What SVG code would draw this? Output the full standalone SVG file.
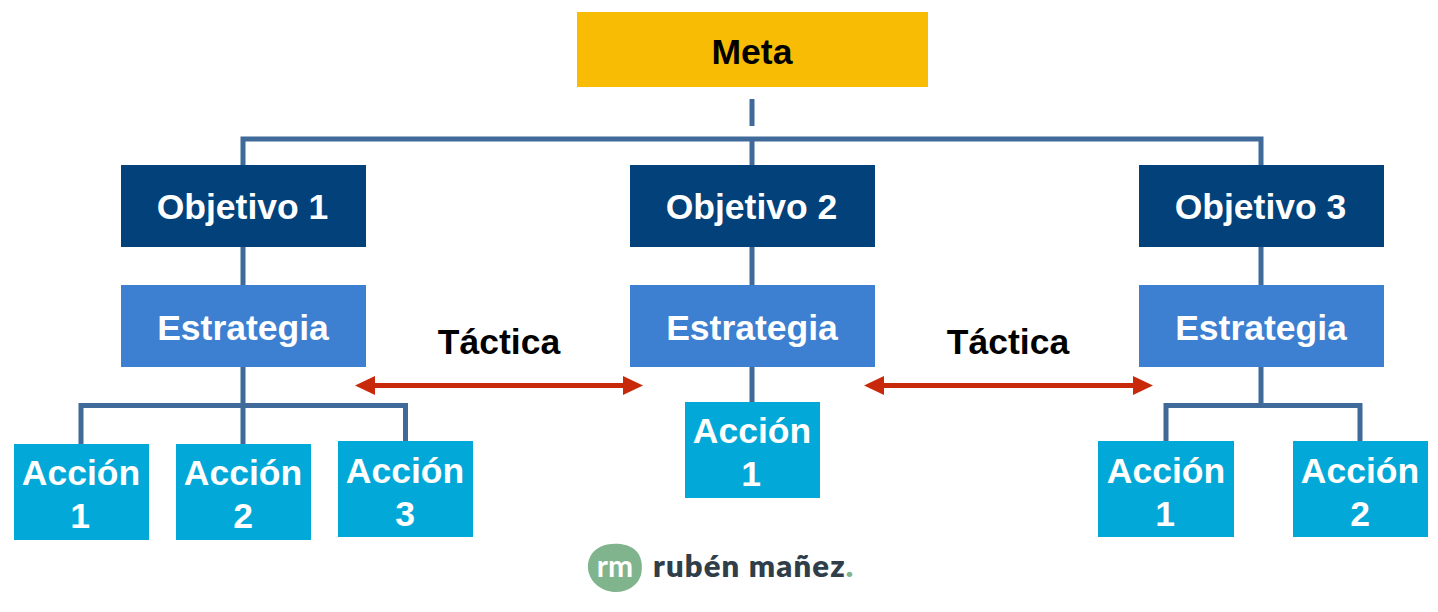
<svg xmlns="http://www.w3.org/2000/svg" width="1438" height="612" viewBox="0 0 1438 612">
<style>
text{font-family:"Liberation Sans",Arial,sans-serif;font-weight:700;text-anchor:middle}
.w{fill:#fff;font-size:35.5px}
.k{fill:#000;font-size:35.5px}
.c{fill:none;stroke:#3f6a9a;stroke-width:5}
.r{fill:none;stroke:#c8290a;stroke-width:5}
.o{fill:#024179}.e{fill:#3d7fd0}.a{fill:#02a9d8}
</style>
<defs>
<marker id="ah" markerUnits="userSpaceOnUse" markerWidth="20" markerHeight="20" refX="10" refY="10" orient="auto-start-reverse"><path d="M0 0.5L20 10L0 19.5Z" fill="#c8290a"/></marker>
</defs>
<rect width="1438" height="612" fill="#fff"/>
<g id="connectors">
<path class="c" d="M752 99V126M243 165V139H1261V165M752 139V165M243 247V285M752 247V285M1261 247V285M243 367V444M81 444V405.5H405.500V441M752 367V402M1261 367V404M1166 441V405.500H1360V441"/>
<path class="r" d="M365 385.500H633" marker-start="url(#ah)" marker-end="url(#ah)"/>
<path class="r" d="M874 385.500H1143" marker-start="url(#ah)" marker-end="url(#ah)"/>
</g>
<g id="meta"><rect x="577" y="12" width="351" height="75" fill="#f9bc05"/><text class="k" x="752" y="64">Meta</text></g>
<g id="obj1"><rect class="o" x="121" y="165" width="245" height="82"/><text class="w" x="242.500" y="219">Objetivo 1</text></g>
<g id="obj2"><rect class="o" x="630" y="165" width="245" height="82"/><text class="w" x="751.500" y="219">Objetivo 2</text></g>
<g id="obj3"><rect class="o" x="1139" y="165" width="245" height="82"/><text class="w" x="1260.500" y="219">Objetivo 3</text></g>
<g id="est1"><rect class="e" x="121" y="285" width="245" height="82"/><text class="w" x="243" y="340">Estrategia</text></g>
<g id="est2"><rect class="e" x="630" y="285" width="245" height="82"/><text class="w" x="752" y="340">Estrategia</text></g>
<g id="est3"><rect class="e" x="1139" y="285" width="245" height="82"/><text class="w" x="1261" y="340">Estrategia</text></g>
<g id="tac1"><text class="k" x="499" y="354">Táctica</text></g>
<g id="tac2"><text class="k" x="1008" y="354">Táctica</text></g>
<g id="a11"><rect class="a" x="14" y="444" width="135" height="96"/><text class="w" x="81" y="485">Acción</text><text class="w" x="80" y="528">1</text></g>
<g id="a12"><rect class="a" x="176" y="444" width="135" height="96"/><text class="w" x="243" y="485">Acción</text><text class="w" x="243" y="528">2</text></g>
<g id="a13"><rect class="a" x="338" y="441" width="135" height="96"/><text class="w" x="405" y="483">Acción</text><text class="w" x="405" y="526">3</text></g>
<g id="a21"><rect class="a" x="685" y="402" width="135" height="96"/><text class="w" x="752" y="443">Acción</text><text class="w" x="751" y="486">1</text></g>
<g id="a31"><rect class="a" x="1098" y="441" width="136" height="96"/><text class="w" x="1166" y="483">Acción</text><text class="w" x="1165" y="526">1</text></g>
<g id="a32"><rect class="a" x="1293" y="441" width="135" height="96"/><text class="w" x="1360" y="483">Acción</text><text class="w" x="1360" y="526">2</text></g>
<g id="logo"><path d="M588 569C587 559 592 551 600 547C610 542 626 543 634 549C642 555 643 566 641 575C638 585 628 592 616 592C605 592 590 585 588 569Z" fill="#7fb48d"/>
<text x="615" y="577" style="font-family:Lato,sans-serif;font-size:30px;font-weight:700" fill="#fff">rm</text>
<text x="653" y="577" style="font-family:Lato,sans-serif;font-size:31px;font-weight:800;letter-spacing:1.150px;text-anchor:start" fill="#2f3e48">rubén mañez<tspan fill="#7fb48d">.</tspan></text></g>
</svg>
